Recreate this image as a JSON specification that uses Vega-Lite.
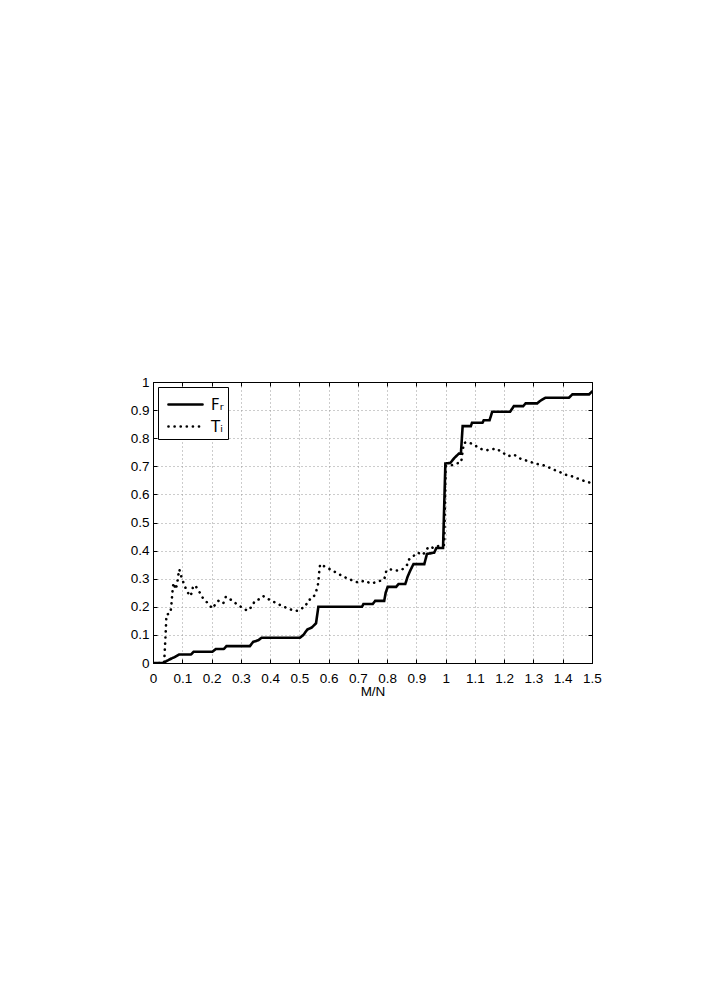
{
  "$schema": "https://vega.github.io/schema/vega-lite/v6.json",
  "width": 439,
  "height": 281,
  "autosize": {"type": "none"},
  "padding": {"left": 153, "top": 382, "right": 114, "bottom": 335},
  "background": "white",
  "config": {
    "font": "Liberation Sans",
    "view": {"stroke": "black", "strokeWidth": 1},
    "axis": {
      "labelFont": "Liberation Sans",
      "titleFont": "Liberation Sans",
      "labelFontSize": 13.5,
      "titleFontSize": 13.5,
      "labelColor": "black",
      "titleColor": "black",
      "titleFontWeight": "normal",
      "domainColor": "black",
      "tickColor": "black",
      "gridColor": "#999999",
      "gridDash": [1, 3],
      "gridWidth": 1,
      "tickSize": -4
    }
  },
  "data": {"values": [
    {"s":"F_R","x":0,"y":0},{"s":"F_R","x":0.034,"y":0},{"s":"F_R","x":0.046,"y":0.007},{"s":"F_R","x":0.052,"y":0.01},{"s":"F_R","x":0.063,"y":0.016},{"s":"F_R","x":0.074,"y":0.021},{"s":"F_R","x":0.089,"y":0.03},{"s":"F_R","x":0.13,"y":0.03},{"s":"F_R","x":0.139,"y":0.04},{"s":"F_R","x":0.203,"y":0.04},{"s":"F_R","x":0.215,"y":0.05},{"s":"F_R","x":0.242,"y":0.05},{"s":"F_R","x":0.251,"y":0.06},{"s":"F_R","x":0.331,"y":0.06},{"s":"F_R","x":0.342,"y":0.075},{"s":"F_R","x":0.36,"y":0.081},{"s":"F_R","x":0.371,"y":0.09},{"s":"F_R","x":0.502,"y":0.09},{"s":"F_R","x":0.514,"y":0.1},{"s":"F_R","x":0.527,"y":0.119},{"s":"F_R","x":0.542,"y":0.126},{"s":"F_R","x":0.557,"y":0.141},{"s":"F_R","x":0.565,"y":0.2},{"s":"F_R","x":0.714,"y":0.2},{"s":"F_R","x":0.719,"y":0.21},{"s":"F_R","x":0.751,"y":0.21},{"s":"F_R","x":0.759,"y":0.221},{"s":"F_R","x":0.79,"y":0.221},{"s":"F_R","x":0.795,"y":0.25},{"s":"F_R","x":0.802,"y":0.271},{"s":"F_R","x":0.831,"y":0.271},{"s":"F_R","x":0.839,"y":0.281},{"s":"F_R","x":0.862,"y":0.281},{"s":"F_R","x":0.87,"y":0.307},{"s":"F_R","x":0.879,"y":0.329},{"s":"F_R","x":0.89,"y":0.352},{"s":"F_R","x":0.927,"y":0.352},{"s":"F_R","x":0.936,"y":0.388},{"s":"F_R","x":0.961,"y":0.393},{"s":"F_R","x":0.968,"y":0.409},{"s":"F_R","x":0.991,"y":0.409},{"s":"F_R","x":0.999,"y":0.71},{"s":"F_R","x":1.016,"y":0.712},{"s":"F_R","x":1.03,"y":0.73},{"s":"F_R","x":1.045,"y":0.745},{"s":"F_R","x":1.052,"y":0.745},{"s":"F_R","x":1.058,"y":0.843},{"s":"F_R","x":1.086,"y":0.843},{"s":"F_R","x":1.09,"y":0.855},{"s":"F_R","x":1.126,"y":0.855},{"s":"F_R","x":1.13,"y":0.864},{"s":"F_R","x":1.15,"y":0.864},{"s":"F_R","x":1.159,"y":0.894},{"s":"F_R","x":1.22,"y":0.894},{"s":"F_R","x":1.233,"y":0.914},{"s":"F_R","x":1.265,"y":0.914},{"s":"F_R","x":1.273,"y":0.924},{"s":"F_R","x":1.313,"y":0.924},{"s":"F_R","x":1.322,"y":0.932},{"s":"F_R","x":1.341,"y":0.944},{"s":"F_R","x":1.421,"y":0.944},{"s":"F_R","x":1.433,"y":0.956},{"s":"F_R","x":1.49,"y":0.956},{"s":"F_R","x":1.5,"y":0.966},
    {"s":"T_I","x":0,"y":0},{"s":"T_I","x":0.038,"y":0},{"s":"T_I","x":0.043,"y":0.1},{"s":"T_I","x":0.046,"y":0.172},{"s":"T_I","x":0.054,"y":0.175},{"s":"T_I","x":0.06,"y":0.18},{"s":"T_I","x":0.063,"y":0.21},{"s":"T_I","x":0.067,"y":0.26},{"s":"T_I","x":0.07,"y":0.285},{"s":"T_I","x":0.078,"y":0.262},{"s":"T_I","x":0.083,"y":0.285},{"s":"T_I","x":0.086,"y":0.31},{"s":"T_I","x":0.09,"y":0.333},{"s":"T_I","x":0.097,"y":0.307},{"s":"T_I","x":0.105,"y":0.283},{"s":"T_I","x":0.114,"y":0.26},{"s":"T_I","x":0.126,"y":0.238},{"s":"T_I","x":0.133,"y":0.25},{"s":"T_I","x":0.137,"y":0.274},{"s":"T_I","x":0.145,"y":0.275},{"s":"T_I","x":0.158,"y":0.254},{"s":"T_I","x":0.171,"y":0.23},{"s":"T_I","x":0.188,"y":0.212},{"s":"T_I","x":0.203,"y":0.194},{"s":"T_I","x":0.211,"y":0.206},{"s":"T_I","x":0.223,"y":0.221},{"s":"T_I","x":0.24,"y":0.212},{"s":"T_I","x":0.249,"y":0.236},{"s":"T_I","x":0.265,"y":0.226},{"s":"T_I","x":0.283,"y":0.212},{"s":"T_I","x":0.303,"y":0.198},{"s":"T_I","x":0.323,"y":0.186},{"s":"T_I","x":0.337,"y":0.2},{"s":"T_I","x":0.348,"y":0.221},{"s":"T_I","x":0.363,"y":0.227},{"s":"T_I","x":0.377,"y":0.238},{"s":"T_I","x":0.4,"y":0.224},{"s":"T_I","x":0.42,"y":0.214},{"s":"T_I","x":0.441,"y":0.203},{"s":"T_I","x":0.466,"y":0.192},{"s":"T_I","x":0.488,"y":0.185},{"s":"T_I","x":0.5,"y":0.188},{"s":"T_I","x":0.508,"y":0.194},{"s":"T_I","x":0.52,"y":0.2},{"s":"T_I","x":0.531,"y":0.224},{"s":"T_I","x":0.546,"y":0.23},{"s":"T_I","x":0.556,"y":0.25},{"s":"T_I","x":0.563,"y":0.274},{"s":"T_I","x":0.566,"y":0.3},{"s":"T_I","x":0.568,"y":0.325},{"s":"T_I","x":0.571,"y":0.351},{"s":"T_I","x":0.591,"y":0.341},{"s":"T_I","x":0.613,"y":0.329},{"s":"T_I","x":0.634,"y":0.317},{"s":"T_I","x":0.656,"y":0.305},{"s":"T_I","x":0.676,"y":0.296},{"s":"T_I","x":0.702,"y":0.286},{"s":"T_I","x":0.722,"y":0.293},{"s":"T_I","x":0.745,"y":0.283},{"s":"T_I","x":0.767,"y":0.289},{"s":"T_I","x":0.79,"y":0.298},{"s":"T_I","x":0.795,"y":0.315},{"s":"T_I","x":0.797,"y":0.329},{"s":"T_I","x":0.813,"y":0.333},{"s":"T_I","x":0.833,"y":0.329},{"s":"T_I","x":0.85,"y":0.331},{"s":"T_I","x":0.868,"y":0.349},{"s":"T_I","x":0.873,"y":0.367},{"s":"T_I","x":0.888,"y":0.379},{"s":"T_I","x":0.904,"y":0.393},{"s":"T_I","x":0.922,"y":0.385},{"s":"T_I","x":0.942,"y":0.414},{"s":"T_I","x":0.961,"y":0.409},{"s":"T_I","x":0.982,"y":0.42},{"s":"T_I","x":0.995,"y":0.42},{"s":"T_I","x":1.0,"y":0.7},{"s":"T_I","x":1.016,"y":0.702},{"s":"T_I","x":1.037,"y":0.71},{"s":"T_I","x":1.053,"y":0.714},{"s":"T_I","x":1.062,"y":0.783},{"s":"T_I","x":1.075,"y":0.786},{"s":"T_I","x":1.096,"y":0.778},{"s":"T_I","x":1.116,"y":0.763},{"s":"T_I","x":1.139,"y":0.757},{"s":"T_I","x":1.155,"y":0.76},{"s":"T_I","x":1.173,"y":0.763},{"s":"T_I","x":1.193,"y":0.75},{"s":"T_I","x":1.214,"y":0.736},{"s":"T_I","x":1.233,"y":0.742},{"s":"T_I","x":1.256,"y":0.727},{"s":"T_I","x":1.277,"y":0.72},{"s":"T_I","x":1.3,"y":0.712},{"s":"T_I","x":1.322,"y":0.706},{"s":"T_I","x":1.341,"y":0.702},{"s":"T_I","x":1.364,"y":0.69},{"s":"T_I","x":1.387,"y":0.681},{"s":"T_I","x":1.41,"y":0.67},{"s":"T_I","x":1.433,"y":0.664},{"s":"T_I","x":1.455,"y":0.655},{"s":"T_I","x":1.478,"y":0.646},{"s":"T_I","x":1.5,"y":0.64}
  ]},
  "resolve": {"axis": {"x": "independent", "y": "independent"}},
  "layer": [
    {
      "mark": {"type": "line", "color": "black", "strokeWidth": 2.6, "strokeCap": "round", "strokeJoin": "miter", "clip": true},
      "encoding": {
        "x": {"field": "x", "type": "quantitative", "scale": {"domain": [0, 1.5], "nice": false, "zero": false},
          "axis": {"orient": "bottom", "values": [0,0.1,0.2,0.3,0.4,0.5,0.6,0.7,0.8,0.9,1,1.1,1.2,1.3,1.4,1.5], "format": "~g", "title": "M/N", "labelPadding": 12, "titlePadding": 0, "labelFlush": false, "labelOverlap": false, "grid": true}},
        "y": {"field": "y", "type": "quantitative", "scale": {"domain": [0, 1], "nice": false},
          "axis": {"orient": "left", "values": [0,0.1,0.2,0.3,0.4,0.5,0.6,0.7,0.8,0.9,1], "format": "~g", "title": null, "labelPadding": 8, "labelFlush": false, "labelOverlap": false, "grid": true}},
        "detail": {"field": "s"},
        "strokeDash": {"field": "s", "type": "nominal",
          "scale": {"domain": ["F_R", "T_I"], "range": [[1, 0], [0.1, 6]]},
          "legend": {
            "title": null,
            "orient": "top-left",
            "offset": 5,
            "labelExpr": "datum.value == 'F_R' ? 'Fᵣ' : 'Tᵢ'",
            "symbolType": "M-1.42,0H1.42",
            "symbolSize": 576,
            "symbolStrokeWidth": 2.6,
            "symbolStrokeColor": "black",
            "symbolFillColor": "transparent",
            "symbolOffset": 10,
            "labelFontSize": 15,
            "labelFont": "DejaVu Sans",
            "labelColor": "black",
            "strokeColor": "black",
            "fillColor": "white",
            "padding": 4,
            "rowPadding": 0,
            "labelOffset": 12,
            "encode": {"symbols": {"update": {"strokeCap": {"value": "round"}}}}
          }}
      }
    },
    {
      "mark": {"type": "line", "opacity": 0},
      "encoding": {
        "x": {"field": "x", "type": "quantitative",
          "axis": {"orient": "top", "values": [0,0.1,0.2,0.3,0.4,0.5,0.6,0.7,0.8,0.9,1,1.1,1.2,1.3,1.4,1.5], "labels": false, "title": null, "grid": false}},
        "y": {"field": "y", "type": "quantitative",
          "axis": {"orient": "right", "values": [0,0.1,0.2,0.3,0.4,0.5,0.6,0.7,0.8,0.9,1], "labels": false, "title": null, "grid": false}},
        "detail": {"field": "s"}
      }
    }
  ]
}
